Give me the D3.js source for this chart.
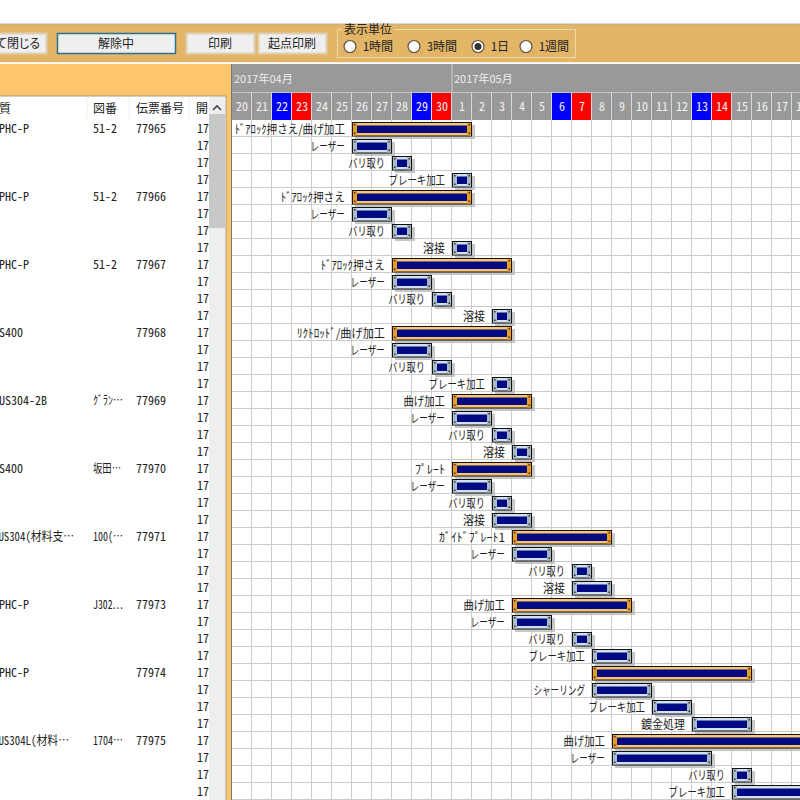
<!DOCTYPE html>
<html>
<head>
<meta charset="utf-8">
<script src="https://cdn.jsdelivr.net/npm/d3@7"></script>
<style>
body { margin: 0; background: #fff; }
svg { display: block; }
text { font-family: "Noto Sans CJK JP", "Noto Sans", sans-serif; font-size: 12px; fill: #222; }
.half { font-feature-settings: "hwid"; }
.prop { font-feature-settings: "palt"; }
</style>
</head>
<body>
<div id="chart"></div>
<script>
// gantt rows, 4 per slip
var taskLabels = [
	"ﾄﾞｱﾛｯｸ押さえ/曲げ加工", "レーザー", "バリ取り", "ブレーキ加工",
	"ﾄﾞｱﾛｯｸ押さえ", "レーザー", "バリ取り", "溶接",
	"ﾄﾞｱﾛｯｸ押さえ", "レーザー", "バリ取り", "溶接",
	"ﾘｸﾄﾛｯﾄﾞ/曲げ加工", "レーザー", "バリ取り", "ブレーキ加工",
	"曲げ加工", "レーザー", "バリ取り", "溶接",
	"ﾌﾟﾚｰﾄ", "レーザー", "バリ取り", "溶接",
	"ｶﾞｲﾄﾞﾌﾟﾚｰﾄ1", "レーザー", "バリ取り", "溶接",
	"曲げ加工", "レーザー", "バリ取り", "ブレーキ加工",
	"", "シャーリング", "ブレーキ加工", "鍍金処理",
	"曲げ加工", "レーザー", "バリ取り", "ブレーキ加工"
];
var taskStarts = [
	"04-26", "04-26", "04-28", "05-01",
	"04-26", "04-26", "04-28", "05-01",
	"04-28", "04-28", "04-30", "05-03",
	"04-28", "04-28", "04-30", "05-03",
	"05-01", "05-01", "05-03", "05-04",
	"05-01", "05-01", "05-03", "05-03",
	"05-04", "05-04", "05-07", "05-07",
	"05-04", "05-04", "05-07", "05-08",
	"05-08", "05-08", "05-11", "05-13",
	"05-09", "05-09", "05-15", "05-15"
];
var taskDays = [
	6, 2, 1, 1,
	6, 2, 1, 1,
	6, 2, 1, 1,
	6, 2, 1, 1,
	4, 2, 1, 1,
	4, 2, 1, 2,
	5, 2, 1, 2,
	6, 2, 1, 2,
	8, 3, 2, 3,
	12, 5, 1, 6
];
var materials = ["SPHC-P", "SPHC-P", "SPHC-P", "SS400", "SUS304-2B", "SS400", "SUS304(材料支…", "SPHC-P", "SPHC-P", "SUS304L(材料…"];
var drawings = ["51-2", "51-2", "51-2", "", "ｸﾞﾗﾝ…", "坂田…", "100(…", "J302…", "", "1704…"];
var slips = ["77965", "77966", "77967", "77968", "77969", "77970", "77971", "77973", "77974", "77975"];
var columnNames = ["材質", "図番", "伝票番号", "開"];
var dayTicks = ["04-20", "04-21", "04-22", "04-23", "04-24", "04-25", "04-26", "04-27", "04-28", "04-29", "04-30",
	"05-01", "05-02", "05-03", "05-04", "05-05", "05-06", "05-07", "05-08", "05-09", "05-10", "05-11", "05-12", "05-13", "05-14", "05-15", "05-16", "05-17", "05-18"];
var months = ["04-20", "05-01"];
var monthNames = ["2017年04月", "2017年05月"];
var buttonNames = ["て閉じる", "解除中", "印刷", "起点印刷"];
var unitNames = ["1時間", "3時間", "1日", "1週間"];

function day(s) { return new Date(Date.UTC(2017, +s.slice(0, 2) - 1, +s.slice(3))); }
function nextDay(d, n) { return d3.utcDay.offset(d, n); }

// the original UI font is narrower than Noto, so squeeze strings to about its width
function uiWidth(s) {
	var w = 0;
	Array.from(s).forEach(function(c) {
		if (/[\u3040-\u30ff]/.test(c)) w += 8.6;
		else if (/[\u4e00-\u9fff]/.test(c)) w += 11;
		else if (c == "/") w += 4.5;
		else w += 6;
	});
	return w;
}
function squeeze(sel) {
	sel.filter(function(d) { return d != ""; })
		.attr("textLength", function(d) { return uiWidth(d); })
		.attr("lengthAdjust", "spacingAndGlyphs");
}

var svg = d3.select("#chart").append("svg").attr("width", 800).attr("height", 800);

var x = d3.scaleUtc().domain([day("04-20"), day("05-18")]).range([232, 792]);
var y = d3.scaleLinear().domain([0, 40]).range([120, 800]);

// toolbar
svg.append("rect").attr("x", 0).attr("y", 24).attr("width", 800).attr("height", 38).attr("fill", "#e3b566");
svg.append("line").attr("x1", 0).attr("x2", 800).attr("y1", 24).attr("y2", 24).attr("stroke", "#b4b0a4");
svg.append("line").attr("x1", 0).attr("x2", 800).attr("y1", 62.5).attr("y2", 62.5).attr("stroke", "#f4efe4");

var buttonX = [-10, 57, 186, 258], buttonW = [56, 118, 68, 68];
svg.selectAll(".btn").data(buttonNames).enter().append("rect")
	.attr("class", "btn")
	.attr("x", function(d, i) { return buttonX[i] + .5; })
	.attr("y", 33.5).attr("width", function(d, i) { return buttonW[i]; }).attr("height", 20)
	.attr("fill", "#efefef")
	.attr("stroke", function(d, i) { return i == 1 ? "#2a7090" : "#dccfb4"; })
	.attr("stroke-width", function(d, i) { return i == 1 ? 1.5 : 2; });
svg.selectAll(".btnText").data(buttonNames).enter().append("text")
	.attr("class", "btnText prop")
	.attr("x", function(d, i) { return buttonX[i] + buttonW[i] / 2; })
	.attr("y", 48).attr("text-anchor", "middle")
	.text(function(d) { return d; });

svg.append("rect").attr("x", 337.5).attr("y", 29.5).attr("width", 238).attr("height", 28)
	.attr("fill", "none").attr("stroke", "#efd9ab");
svg.append("rect").attr("x", 342).attr("y", 26).attr("width", 52).attr("height", 8).attr("fill", "#e3b566");
svg.append("text").attr("x", 344).attr("y", 34).text("表示単位");

var radioX = [350, 414, 478, 526];
svg.selectAll(".radio").data(unitNames).enter().append("circle")
	.attr("class", "radio")
	.attr("cx", function(d, i) { return radioX[i]; }).attr("cy", 46.5).attr("r", 6)
	.attr("fill", "#fff").attr("stroke", "#5c5240").attr("stroke-width", 1.2);
svg.append("circle").attr("cx", radioX[2]).attr("cy", 46.5).attr("r", 3.5).attr("fill", "#333");
svg.selectAll(".radioText").data(unitNames).enter().append("text")
	.attr("class", "radioText half")
	.attr("x", function(d, i) { return radioX[i] + 13; }).attr("y", 51)
	.text(function(d) { return d; });

// left table
svg.append("rect").attr("x", 0).attr("y", 64).attr("width", 231).attr("height", 736).attr("fill", "#fdc66c");
svg.append("rect").attr("x", 0).attr("y", 96).attr("width", 226).attr("height", 704).attr("fill", "#fff");
svg.append("line").attr("x1", 0).attr("x2", 226).attr("y1", 96).attr("y2", 96).attr("stroke", "#a89a80");
svg.append("line").attr("x1", 226).attr("x2", 226).attr("y1", 96).attr("y2", 800).attr("stroke", "#a89a80");

var colX = [-7, 93, 136, 197];
var headX = [-13, 93, 136, 196];
svg.selectAll(".colName").data(columnNames).enter().append("text")
	.attr("class", "colName")
	.attr("x", function(d, i) { return headX[i]; }).attr("y", 113)
	.text(function(d) { return d; });
svg.selectAll(".colSep").data([87, 129, 189]).enter().append("line")
	.attr("class", "colSep")
	.attr("x1", function(d) { return d; }).attr("x2", function(d) { return d; })
	.attr("y1", 97).attr("y2", 119).attr("stroke", "#eeeeee");

svg.append("rect").attr("x", 209).attr("y", 97).attr("width", 16).attr("height", 703).attr("fill", "#eeeeee");
svg.append("rect").attr("x", 209).attr("y", 114).attr("width", 16).attr("height", 114).attr("fill", "#c8c8c8");
svg.append("path").attr("d", "M213 110l4-4 4 4").attr("fill", "none").attr("stroke", "#444").attr("stroke-width", 1.6);

function rowText(values, col) {
	return svg.selectAll(".col" + col).data(values).enter().append("text")
		.attr("class", "col" + col + " half")
		.attr("x", colX[col])
		.attr("y", function(d, i) { return y(i * 4) + 13; })
		.text(function(d) { return d; });
}
rowText(materials, 0).call(squeeze);
rowText(drawings, 1).call(squeeze);
rowText(slips, 2);
svg.selectAll(".start").data(taskLabels).enter().append("text")
	.attr("class", "start half")
	.attr("x", colX[3])
	.attr("y", function(d, i) { return y(i) + 13; })
	.text("17");

// gantt header
svg.append("rect").attr("x", 231).attr("y", 64).attr("width", 569).attr("height", 56).attr("fill", "#999999");
svg.append("line").attr("x1", 231.5).attr("x2", 231.5).attr("y1", 64).attr("y2", 800).attr("stroke", "#777");
svg.append("rect").attr("x", 232).attr("y", 120).attr("width", 568).attr("height", 680).attr("fill", "#fff");

svg.selectAll(".month").data(months).enter().append("text")
	.attr("class", "month")
	.attr("x", function(d) { return x(day(d)) + 2; }).attr("y", 83)
	.style("fill", "#eeeeee").style("font-size", "11px")
	.text(function(d, i) { return monthNames[i]; });
svg.append("line").attr("x1", x(day("05-01"))).attr("x2", x(day("05-01")))
	.attr("y1", 64).attr("y2", 92).attr("stroke", "#d0d0d0");
svg.append("line").attr("x1", 232).attr("x2", 800).attr("y1", 92.5).attr("y2", 92.5).attr("stroke", "#c4c4c4");

function dayColor(s) {
	var w = day(s).getUTCDay();
	return w == 6 ? "#0000ff" : w == 0 ? "#ff0000" : "#999999";
}
svg.selectAll(".dayCell").data(dayTicks).enter().append("rect")
	.attr("class", "dayCell")
	.attr("x", function(d) { return x(day(d)); })
	.attr("y", 93).attr("width", function(d) { return x(nextDay(day(d), 1)) - x(day(d)) - 1; }).attr("height", 27)
	.attr("fill", function(d) { return dayColor(d); });
svg.selectAll(".daySep").data(dayTicks).enter().append("line")
	.attr("class", "daySep")
	.attr("x1", function(d) { return x(nextDay(day(d), 1)) - .5; })
	.attr("x2", function(d) { return x(nextDay(day(d), 1)) - .5; })
	.attr("y1", 93).attr("y2", 120).attr("stroke", "#d8d8d8");
svg.selectAll(".dayText").data(dayTicks).enter().append("text")
	.attr("class", "dayText half")
	.attr("x", function(d) { return x(day(d)) + 10; })
	.attr("y", 111).attr("text-anchor", "middle")
	.style("fill", "#f2f2f2")
	.text(function(d) { return +d.slice(3); });

// grid
svg.selectAll(".vgrid").data(dayTicks).enter().append("line")
	.attr("class", "vgrid")
	.attr("x1", function(d) { return x(nextDay(day(d), 1)) - .5; })
	.attr("x2", function(d) { return x(nextDay(day(d), 1)) - .5; })
	.attr("y1", y(0)).attr("y2", y(40)).attr("stroke", "#cccccc");
svg.selectAll(".hgrid").data(taskLabels).enter().append("line")
	.attr("class", "hgrid")
	.attr("x1", 232).attr("x2", 800)
	.attr("y1", function(d, i) { return y(i + 1) - .5; })
	.attr("y2", function(d, i) { return y(i + 1) - .5; })
	.attr("stroke", "#cccccc");

// bars
var tasks = taskLabels.map(function(d, i) {
	var s = day(taskStarts[i]);
	return { label: d, row: i, x0: x(s), x1: x(nextDay(s, taskDays[i])), parent: i % 4 == 0 };
});
var g = svg.selectAll(".task").data(tasks).enter().append("g")
	.attr("class", "task")
	.attr("transform", function(d) { return "translate(" + d.x0 + "," + (y(d.row) + 2) + ")"; });

g.append("rect").attr("x", 3).attr("y", 3)
	.attr("width", function(d) { return d.x1 - d.x0; }).attr("height", 14)
	.attr("fill", "#b4b4b4").attr("opacity", .75);
g.append("rect").attr("x", .5).attr("y", .5)
	.attr("width", function(d) { return d.x1 - d.x0 - 1; }).attr("height", 13.5)
	.attr("fill", function(d) { return d.parent ? "#fbc66e" : "#d3e0ee"; })
	.attr("stroke", "#111");
g.append("rect").attr("x", 1).attr("y", 1)
	.attr("width", 4).attr("height", 12.5)
	.attr("fill", function(d) { return d.parent ? "#ee9c1c" : "#a9bccb"; });
g.append("rect").attr("x", function(d) { return d.x1 - d.x0 - 5; }).attr("y", 1)
	.attr("width", 4).attr("height", 12.5)
	.attr("fill", function(d) { return d.parent ? "#ee9c1c" : "#a9b6c0"; });
g.append("rect").attr("x", 5).attr("y", 3.5)
	.attr("width", function(d) { return d.x1 - d.x0 - 10; }).attr("height", 7.5)
	.attr("fill", "#000a82");
// rivets in the corners
g.each(function(d) {
	var w = d.x1 - d.x0;
	d3.select(this).selectAll(".rivet").data([[2, 2], [w - 3.5, 2], [2, 10.5], [w - 3.5, 10.5]]).enter().append("rect")
		.attr("class", "rivet")
		.attr("x", function(p) { return p[0]; }).attr("y", function(p) { return p[1]; })
		.attr("width", 1.5).attr("height", 1.5).attr("fill", "#333");
});
g.append("text")
	.datum(function(d) { return d.label; })
	.attr("x", -7).attr("y", 12).attr("text-anchor", "end")
	.text(function(d) { return d; })
	.call(squeeze);
</script>
</body>
</html>
